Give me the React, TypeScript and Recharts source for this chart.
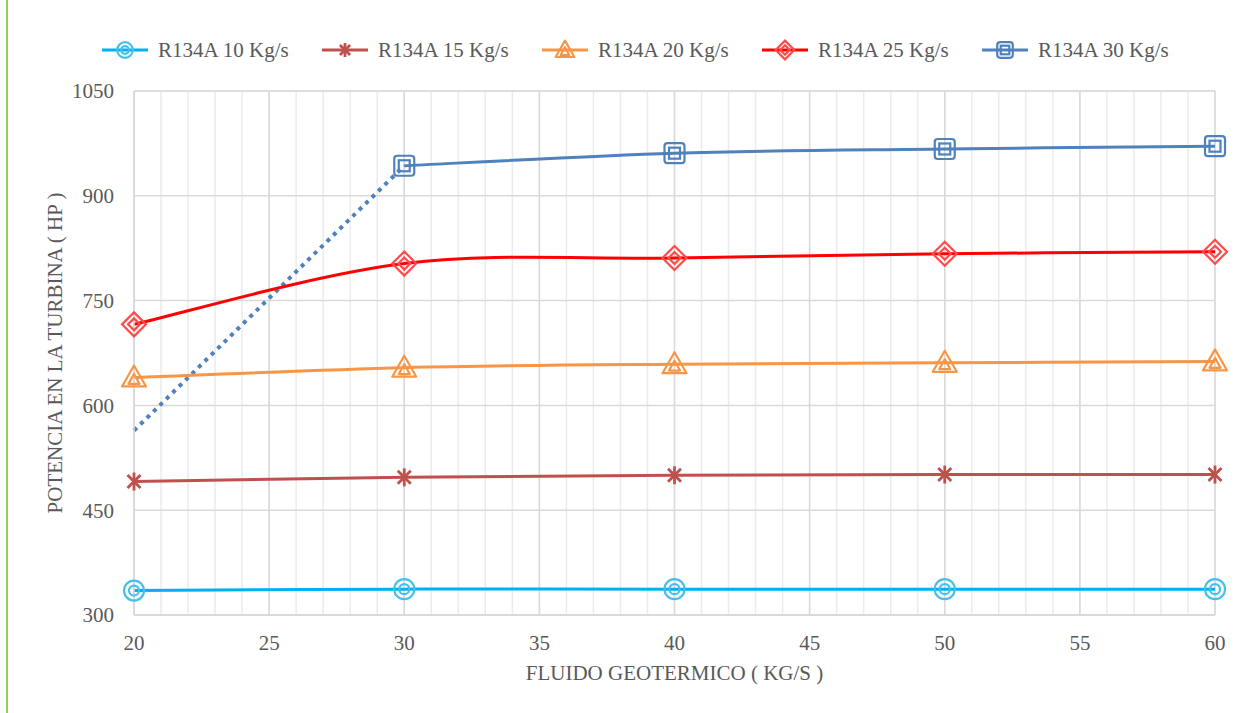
import React from 'react';
import { LineChart, Line, XAxis, YAxis, CartesianGrid } from 'recharts';

const flujo = [20, 30, 40, 50, 60];
const r134a10 = [335, 337, 337, 337, 337];
const r134a15 = [491, 497, 500, 501, 501];
const r134a20 = [640, 654, 659, 661, 663];
const r134a25 = [716, 803, 811, 817, 820];
const r134a30 = [null, 943, 961, 967, 971];
const r134a30Tramo = [564, 943, null, null, null];

const xTicks = [20, 25, 30, 35, 40, 45, 50, 55, 60];
const yTicks = [300, 450, 600, 750, 900, 1050];
const xMinor = [20, 21, 22, 23, 24, 25, 26, 27, 28, 29, 30, 31, 32, 33, 34, 35, 36, 37, 38, 39, 40,
  41, 42, 43, 44, 45, 46, 47, 48, 49, 50, 51, 52, 53, 54, 55, 56, 57, 58, 59, 60];
const yMinor = [300, 330, 360, 390, 420, 450, 480, 510, 540, 570, 600, 630, 660, 690, 720, 750,
  780, 810, 840, 870, 900, 930, 960, 990, 1020, 1050];

type Shape = 'ring' | 'star' | 'triangle' | 'diamond' | 'square';

const series: { key: string; name: string; line: string; mark: string; shape: Shape }[] = [
  { key: 's10', name: 'R134A 10 Kg/s', line: '#00B0F0', mark: '#45C0EE', shape: 'ring' },
  { key: 's15', name: 'R134A 15 Kg/s', line: '#C0504D', mark: '#C0504D', shape: 'star' },
  { key: 's20', name: 'R134A 20 Kg/s', line: '#F79646', mark: '#F79646', shape: 'triangle' },
  { key: 's25', name: 'R134A 25 Kg/s', line: '#FF0000', mark: '#FF4A4A', shape: 'diamond' },
  { key: 's30', name: 'R134A 30 Kg/s', line: '#4F81BD', mark: '#4F81BD', shape: 'square' },
];

const data = flujo.map((x, i) => ({
  x,
  s10: r134a10[i],
  s15: r134a15[i],
  s20: r134a20[i],
  s25: r134a25[i],
  s30: r134a30[i],
  t30: r134a30Tramo[i],
}));

const FONT = '"Times New Roman", "Liberation Serif", serif';
const TEXT = '#595959';

// suavizado tipo Excel (Catmull-Rom)
const suave = (ctx: any) => {
  let pts: number[][] = [];
  return {
    areaStart() {},
    areaEnd() {},
    lineStart() { pts = []; },
    point(x: number, y: number) { pts.push([+x, +y]); },
    lineEnd() {
      if (!pts.length) return;
      ctx.moveTo(pts[0][0], pts[0][1]);
      for (let i = 0; i < pts.length - 1; i++) {
        const p0 = pts[i - 1] || pts[i];
        const p1 = pts[i];
        const p2 = pts[i + 1];
        const p3 = pts[i + 2] || p2;
        ctx.bezierCurveTo(
          p1[0] + (p2[0] - p0[0]) / 6, p1[1] + (p2[1] - p0[1]) / 6,
          p2[0] - (p3[0] - p1[0]) / 6, p2[1] - (p3[1] - p1[1]) / 6,
          p2[0], p2[1],
        );
      }
    },
  };
};

function Marker({ cx, cy, shape, color, k = 1 }: { cx: number; cy: number; shape: Shape; color: string; k?: number }) {
  const sw = 2.2;
  if (shape === 'ring')
    return (
      <g fill="none" stroke={color} strokeWidth={sw}>
        <circle cx={cx} cy={cy} r={10 * k} />
        <circle cx={cx} cy={cy} r={5 * k} />
      </g>
    );
  if (shape === 'square') {
    const a = 10 * k, b = 5.5 * k;
    return (
      <g fill="none" stroke={color} strokeWidth={sw}>
        <rect x={cx - a} y={cy - a} width={2 * a} height={2 * a} rx={3} />
        <rect x={cx - b} y={cy - b} width={2 * b} height={2 * b} />
      </g>
    );
  }
  if (shape === 'diamond') {
    const a = 12 * k, b = 6 * k;
    return (
      <g fill="none" stroke={color} strokeWidth={sw}>
        <path d={`M${cx},${cy - a}L${cx + a},${cy}L${cx},${cy + a}L${cx - a},${cy}Z`} />
        <path d={`M${cx},${cy - b}L${cx + b},${cy}L${cx},${cy + b}L${cx - b},${cy}Z`} />
      </g>
    );
  }
  if (shape === 'triangle') {
    const a = 12 * k, b = 5.5 * k;
    return (
      <g fill="none" stroke={color} strokeWidth={sw} strokeLinejoin="round">
        <path d={`M${cx},${cy - a}L${cx + a},${cy + a * 0.75}L${cx - a},${cy + a * 0.75}Z`} />
        <path d={`M${cx},${cy - b + 2 * k}L${cx + b},${cy + b * 0.8 + 2 * k}L${cx - b},${cy + b * 0.8 + 2 * k}Z`} />
      </g>
    );
  }
  const a = 9 * k, d = 6.5 * k;
  return (
    <g stroke={color} strokeWidth={2.8}>
      <line x1={cx - d} y1={cy - d} x2={cx + d} y2={cy + d} />
      <line x1={cx - d} y1={cy + d} x2={cx + d} y2={cy - d} />
      <line x1={cx} y1={cy - a} x2={cx} y2={cy + a} />
    </g>
  );
}

function Leyenda() {
  return (
    <div style={{ position: 'absolute', left: 101, top: 36, display: 'flex', fontFamily: FONT, fontSize: 21, color: TEXT }}>
      {series.map((s) => (
        <div key={s.key} style={{ display: 'flex', alignItems: 'center', width: 220 }}>
          <svg width={48} height={28} style={{ marginRight: 9 }}>
            <line x1={1} y1={14} x2={47} y2={14} stroke={s.line} strokeWidth={3} />
            <Marker cx={24} cy={14} shape={s.shape} color={s.mark} k={0.78} />
          </svg>
          <span>{s.name}</span>
        </div>
      ))}
    </div>
  );
}

export default function App() {
  const tick = { fill: TEXT, fontSize: 21, fontFamily: FONT };
  return (
    <div style={{ position: 'fixed', left: 0, top: 0, width: 1252, height: 713, background: '#fff' }}>
      <div style={{ position: 'absolute', left: 6, top: 0, width: 2, height: 713, background: '#92D050' }} />
      <Leyenda />
      <LineChart width={1252} height={713} data={data} margin={{ top: 91, right: 37, left: 0, bottom: 0 }}>
        <XAxis xAxisId="minor" dataKey="x" type="number" domain={[20, 60]} ticks={xMinor} hide />
        <YAxis yAxisId="minor" type="number" domain={[300, 1050]} ticks={yMinor} hide />
        <CartesianGrid xAxisId="minor" yAxisId="minor" stroke="#EBEBEB" strokeWidth={1.5} />
        <XAxis
          dataKey="x"
          type="number"
          domain={[20, 60]}
          ticks={xTicks}
          height={98}
          axisLine={{ stroke: '#D9D9D9', strokeWidth: 1.5 }}
          tickLine={false}
          tick={tick}
          tickMargin={14}
          label={{ value: 'FLUIDO GEOTERMICO ( KG/S )', position: 'insideBottom', offset: 33, fill: TEXT, fontSize: 21, fontFamily: FONT }}
        />
        <YAxis
          type="number"
          domain={[300, 1050]}
          ticks={yTicks}
          width={134}
          axisLine={{ stroke: '#D9D9D9', strokeWidth: 1.5 }}
          tickLine={false}
          tick={tick}
          tickMargin={14}
          label={{ value: 'POTENCIA EN LA TURBINA ( HP )', angle: -90, position: 'insideLeft', offset: 55, fill: TEXT, fontSize: 21, fontFamily: FONT, style: { textAnchor: 'middle' } }}
        />
        <CartesianGrid stroke="#D9D9D9" strokeWidth={1.5} />
        <Line
          dataKey="t30"
          type="linear"
          stroke="#4F81BD"
          strokeWidth={4}
          strokeDasharray="4 5"
          dot={false}
          activeDot={false}
          isAnimationActive={false}
        />
        {series.map((s) => (
          <Line
            key={s.key}
            dataKey={s.key}
            name={s.name}
            type={suave as any}
            stroke={s.line}
            strokeWidth={3}
            dot={(p: any) =>
              p.value == null || p.cx == null ? <g key={p.index} /> : (
                <Marker key={p.index} cx={p.cx} cy={p.cy} shape={s.shape} color={s.mark} />
              )
            }
            activeDot={false}
            isAnimationActive={false}
          />
        ))}
      </LineChart>
    </div>
  );
}
